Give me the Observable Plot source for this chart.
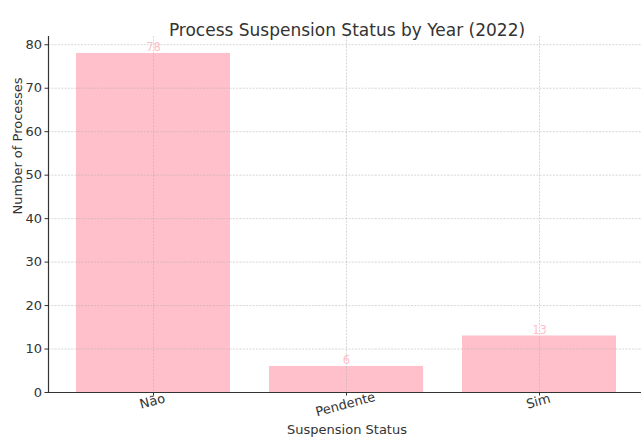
<!DOCTYPE html>
<html><head><meta charset="utf-8">
<script src="https://cdn.jsdelivr.net/npm/d3@7"></script>
<script src="https://cdn.jsdelivr.net/npm/@observablehq/plot@0.6"></script>
<style>body{margin:0;background:#fff;overflow:hidden}</style>
</head><body><div id="chart"></div>
<script>
const categories = ["Não", "Pendente", "Sim"];
const counts = [78, 6, 13];
const yTicks = [0, 10, 20, 30, 40, 50, 60, 70, 80];
const labelOffsets = [13, 16, 13];
const title = "Process Suspension Status by Year (2022)";
const xLabel = "Suspension Status";
const yLabel = "Number of Processes";

const data = categories.map((c, i) => ({status: c, count: counts[i]}));
const font = "'DejaVu Sans', sans-serif";
const ink = "#333";
const gridStyle = {stroke: "#b0b0b0", strokeOpacity: 0.5, strokeDasharray: "2,1.3", strokeWidth: 1};

const chart = Plot.plot({
  width: 641, height: 441,
  marginLeft: 48, marginRight: -4, marginTop: 36, marginBottom: 49,
  style: {fontFamily: font, background: "#fff", color: ink},
  x: {domain: categories, paddingInner: 0.2, paddingOuter: 0.14, axis: null},
  y: {domain: [0, 81.9], axis: null},
  marks: [
    Plot.barY(data, {x: "status", y: "count", fill: "#FFC0CB"}),
    Plot.gridY(yTicks, gridStyle),
    Plot.gridX(categories, gridStyle),
    Plot.text(data, {x: "status", y: "count", text: d => String(d.count), dy: -6, fill: "#FFC0CB", fontSize: 11.5}),
    Plot.axisY(yTicks, {tickSize: 3.5, tickPadding: 3, fontSize: 13, fill: ink, stroke: ink, label: null}),
    Plot.ruleX(categories, {x: d => d, y1: 0, y2: -0.8, stroke: ink, clip: false}),
    ...categories.map((c, i) => Plot.text([c], {x: d => d, frameAnchor: "bottom", dy: labelOffsets[i], rotate: -15, fontSize: 13, fill: ink})),
    Plot.ruleY([0], {stroke: ink, strokeWidth: 1.2}),
    Plot.frame({anchor: "left", stroke: ink, strokeWidth: 1.2}),
    Plot.text([xLabel], {frameAnchor: "bottom", dy: 41, fontSize: 13, fill: ink}),
    Plot.text([yLabel], {frameAnchor: "left", dx: -31, rotate: -90, fontSize: 13, fill: ink}),
    Plot.text([title], {frameAnchor: "top", dy: -13, fontSize: 17, fill: ink})
  ]
});
document.getElementById("chart").append(chart);
</script>
</body></html>
